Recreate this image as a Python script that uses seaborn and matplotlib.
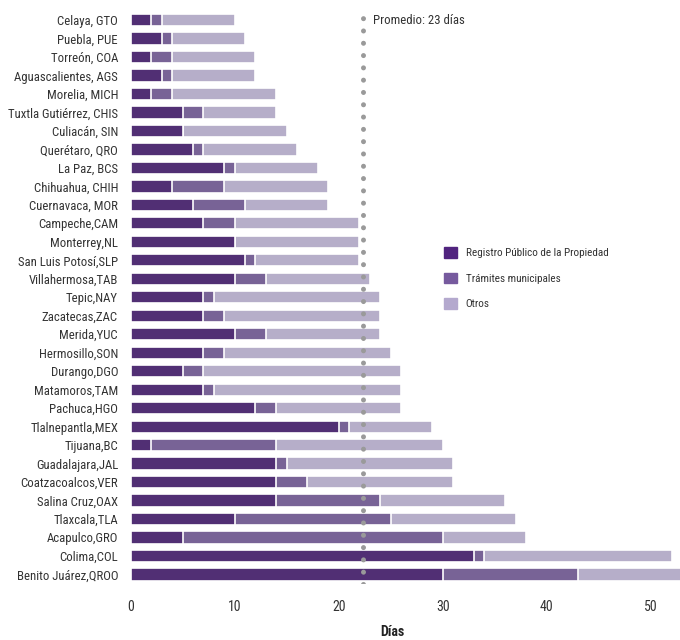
import numpy as np
import pandas as pd
import seaborn as sns
import matplotlib.pyplot as plt
from matplotlib import font_manager
from matplotlib.patches import Patch

ciudades = ["Celaya, GTO", "Puebla, PUE", "Torreón, COA", "Aguascalientes, AGS",
            "Morelia, MICH", "Tuxtla Gutiérrez, CHIS", "Culiacán, SIN", "Querétaro, QRO",
            "La Paz, BCS", "Chihuahua, CHIH", "Cuernavaca, MOR", "Campeche,CAM",
            "Monterrey,NL", "San Luis Potosí,SLP", "Villahermosa,TAB", "Tepic,NAY",
            "Zacatecas,ZAC", "Merida,YUC", "Hermosillo,SON", "Durango,DGO",
            "Matamoros,TAM", "Pachuca,HGO", "Tlalnepantla,MEX", "Tijuana,BC",
            "Guadalajara,JAL", "Coatzacoalcos,VER", "Salina Cruz,OAX", "Tlaxcala,TLA",
            "Acapulco,GRO", "Colima,COL", "Benito Juárez,QROO"]
registro = [2, 3, 2, 3, 2, 5, 5, 6, 9, 4, 6, 7, 10, 11, 10, 7, 7, 10, 7, 5,
            7, 12, 20, 2, 14, 14, 14, 10, 5, 33, 30]
tramites = [1, 1, 2, 1, 2, 2, 0, 1, 1, 5, 5, 3, 0, 1, 3, 1, 2, 3, 2, 2,
            1, 2, 1, 12, 1, 3, 10, 15, 25, 1, 13]
otros = [7, 7, 8, 8, 10, 7, 10, 9, 8, 10, 8, 12, 12, 10, 10, 16, 15, 11, 16, 19,
         18, 12, 8, 16, 16, 14, 12, 12, 8, 18, 11]
promedio = 22.3

df = pd.DataFrame({"ciudad": ciudades, "registro": registro,
                   "tramites": tramites, "otros": otros})
df["c1"] = df["registro"]
df["c2"] = df["registro"] + df["tramites"]
df["c3"] = df["c2"] + df["otros"]

c_reg, c_tra, c_otr = "#51247f", "#765a9e", "#b4a9ce"

sns.set_style("white")

# look for a narrow face, the reference uses a condensed font
fonts = font_manager.fontManager.ttflist
names = {f.name for f in fonts}
fs = 9.2
if "Liberation Sans Narrow" in names:
    plt.rcParams["font.family"] = ["Liberation Sans Narrow", "DejaVu Sans"]
elif "Roboto Condensed" in names:
    plt.rcParams["font.family"] = ["Roboto Condensed", "DejaVu Sans"]
else:
    plt.rcParams["font.family"] = ["DejaVu Sans"]
    plt.rcParams["font.stretch"] = "condensed"
    fs = 8.5

fig = plt.figure(figsize=(6.8, 6.4), dpi=100)
ax = fig.add_axes([0.192, 0.088, 0.808, 0.895])

for col, color in [("c3", c_otr), ("c2", c_tra), ("c1", c_reg)]:
    sns.barplot(data=df, x=col, y="ciudad", color=color, orient="h",
                width=0.66, edgecolor="white", linewidth=1.2, ax=ax)

ax.axvline(promedio, color="#9a9a9a", linestyle=(0, (0.01, 2.45)),
           linewidth=3.6, dash_capstyle="round", zorder=5)
ax.text(promedio + 1.0, 0, "Promedio: 23 días", fontsize=fs, color="#333333",
        va="center", ha="left")

ax.set_xlim(0, 52.8)
ax.set_xticks([0, 10, 20, 30, 40, 50])
ax.tick_params(axis="y", length=0, pad=9, labelsize=fs, labelcolor="#333333")
ax.tick_params(axis="x", length=0, pad=12, labelsize=fs + 0.8, labelcolor="#333333")
ax.set_ylabel("")
ax.set_xlabel("Días", fontsize=fs + 0.8, fontweight="bold", color="#222222")
ax.xaxis.set_label_coords(0.476, -0.072)
sns.despine(ax=ax, left=True, bottom=True)

handles = [Patch(color=c_reg, label="Registro Público de la Propiedad"),
           Patch(color=c_tra, label="Trámites municipales"),
           Patch(color=c_otr, label="Otros")]
leg = ax.legend(handles=handles, frameon=False, loc="upper left",
                bbox_to_anchor=(0.553, 0.605), fontsize=fs - 1.2, handlelength=1.1,
                handleheight=1.1, handletextpad=0.8, labelspacing=1.3)
for t in leg.get_texts():
    t.set_color("#333333")

fig.savefig("out.png", dpi=100)
